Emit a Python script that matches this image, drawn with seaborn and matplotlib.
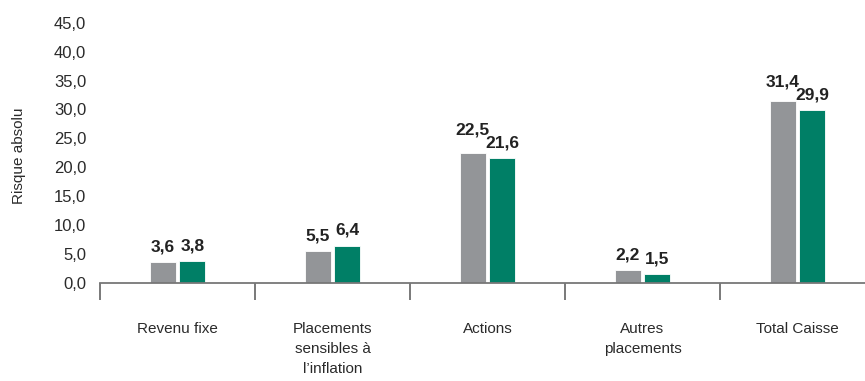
import matplotlib
matplotlib.use("Agg")
import matplotlib.pyplot as plt
import seaborn as sns
import pandas as pd
from matplotlib.ticker import FixedLocator, FuncFormatter

# Absolute risk by asset class, two series
categories = ["Revenu fixe", "Placements\nsensibles à\nl’inflation", "Actions",
              "Autres\nplacements", "Total Caisse"]
series_names = ["Portefeuille", "Référence"]
values_a = [3.6, 5.5, 22.5, 2.2, 31.4]
values_b = [3.8, 6.4, 21.6, 1.5, 29.9]
y_ticks = [0, 5, 10, 15, 20, 25, 30, 35, 40, 45]
y_label = "Risque absolu"

colors = ["#939598", "#007F66"]

df = pd.DataFrame({
    "categorie": categories * 2,
    "serie": [series_names[0]] * len(categories) + [series_names[1]] * len(categories),
    "valeur": values_a + values_b,
})

sns.set_theme(style="white")
plt.rcParams["font.family"] = ["Liberation Sans", "DejaVu Sans"]

fig = plt.figure(figsize=(8.65, 3.81), dpi=100)
ax = fig.add_axes([100 / 865, 98 / 381, 765 / 865, 260.3 / 381])

sns.barplot(data=df, x="categorie", y="valeur", hue="serie", order=categories,
            hue_order=series_names, palette=colors, width=0.38, gap=0.1,
            edgecolor="white", linewidth=0.6, saturation=1, ax=ax, legend=False)

ax.set_ylim(0, 45)
ax.set_xlim(-0.5, 765 / 155 - 0.5)

# y axis: labels only, French decimal comma
ax.yaxis.set_major_locator(FixedLocator(y_ticks))
ax.yaxis.set_major_formatter(FuncFormatter(lambda v, p: f"{v:.1f}".replace(".", ",")))
ax.tick_params(axis="y", length=0, pad=10, labelsize=12, labelcolor="#2a2a2a")
ax.set_ylabel(y_label, fontsize=11, color="#2a2a2a")
ax.yaxis.set_label_coords(-0.097, 0.49)

# x axis: category labels centred, separator ticks between groups
ax.set_xlabel("")
ax.set_xticks(range(len(categories)))
ax.set_xticklabels(categories, fontsize=11, color="#2a2a2a", linespacing=1.55)
ax.tick_params(axis="x", which="major", length=0, pad=28)
ax.xaxis.set_minor_locator(FixedLocator([i - 0.5 for i in range(len(categories) + 1)]))
ax.tick_params(axis="x", which="minor", direction="out", length=12, width=1.1,
               color="#555555", bottom=True)

for s in ["left", "top", "right"]:
    ax.spines[s].set_visible(False)
ax.spines["bottom"].set_color("#777777")
ax.spines["bottom"].set_linewidth(1.3)

# value labels; the taller label of a wide pair is lifted to avoid overlap
fig.canvas.draw()
gap_px = 11
stack_px = 13
for patches, vals, other in [(ax.containers[0], values_a, values_b),
                             (ax.containers[1], values_b, values_a)]:
    for bar, v, o in zip(patches, vals, other):
        x = bar.get_x() + bar.get_width() / 2
        off = gap_px
        if v >= 10 and o >= 10 and v > o:
            own_px = ax.transData.transform((0, v))[1]
            oth_px = ax.transData.transform((0, o))[1]
            off = max(gap_px, (oth_px + gap_px + stack_px) - own_px)
        ax.annotate(f"{v:.1f}".replace(".", ","), (x, v), xytext=(0, off),
                    textcoords="offset pixels", ha="center", va="baseline",
                    fontsize=12.5, fontweight="bold", color="#222222")

fig.savefig("out.png", dpi=100)
